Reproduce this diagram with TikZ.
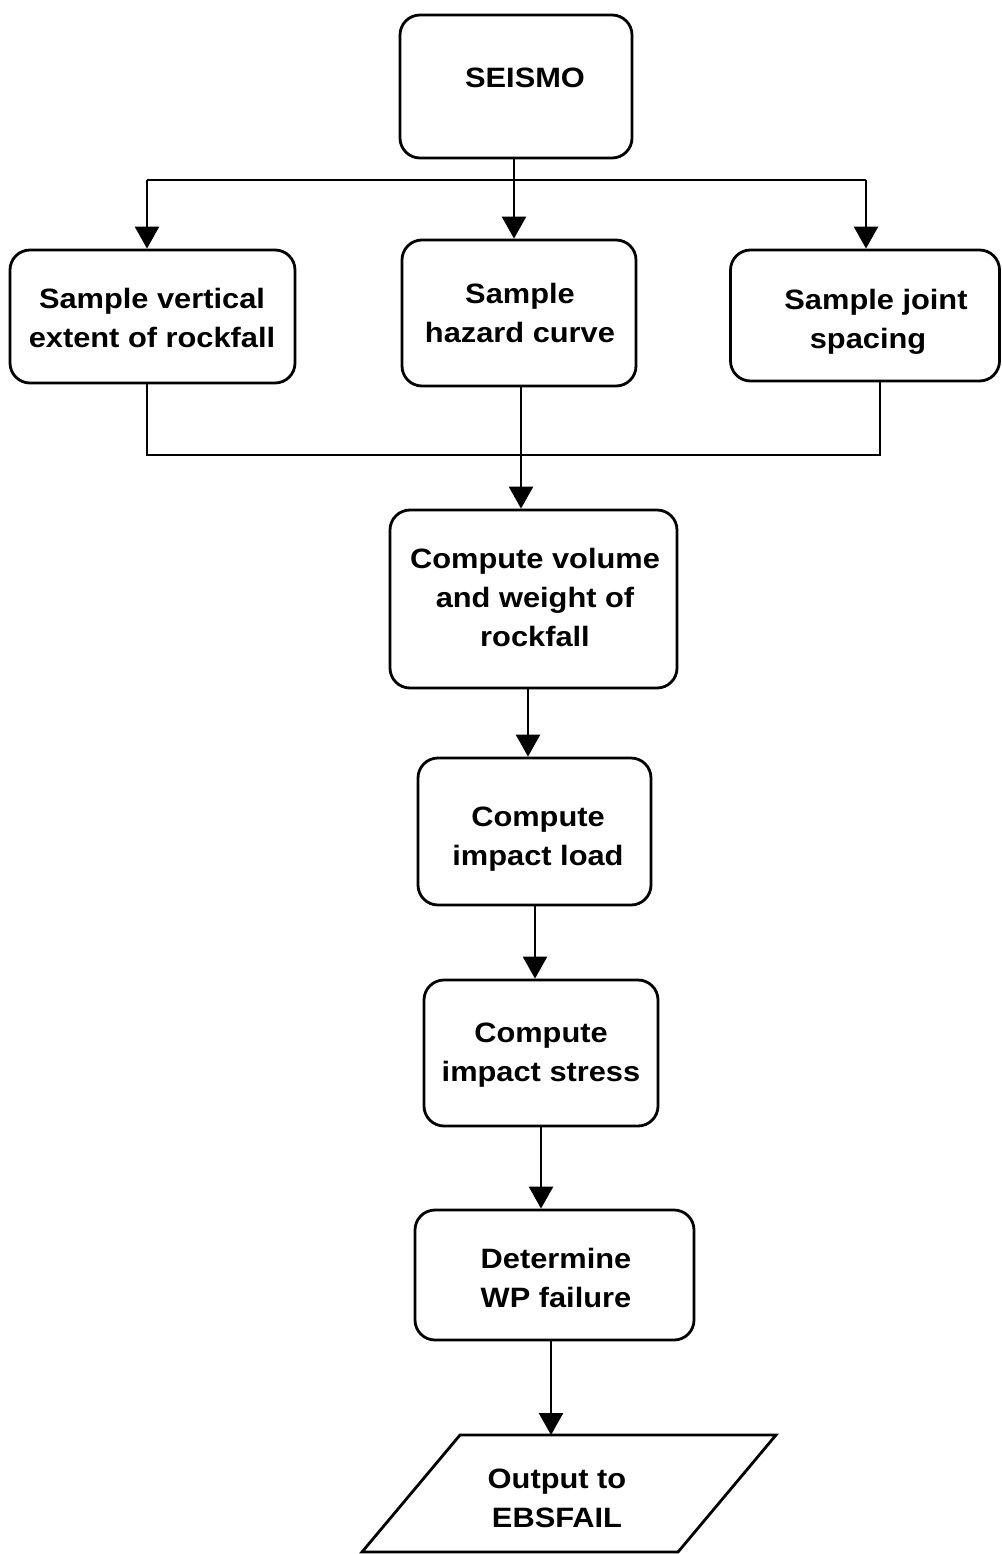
\documentclass[tikz,border=0pt]{standalone}
\usepackage{fontspec}
\setmainfont{Liberation Sans}[FakeStretch=1.1]
\usetikzlibrary{arrows.meta,shapes.geometric}
\begin{document}
\begin{tikzpicture}[x=1pt,y=-1pt,
  box/.style={draw,line width=2.8pt,rounded corners=20pt,inner sep=0pt},
  txt/.style={align=center,inner sep=0pt,font=\bfseries\fontsize{28}{39}\selectfont},
  conn/.style={line width=2.5pt},
  arr/.style={line width=2.5pt,-{Triangle[length=22pt,width=24pt]}}]
\useasboundingbox (0,0) rectangle (1001,1554);
\fill[white] (0,0) rectangle (1001,1554);
% boxes
\node[box,minimum width=232pt,minimum height=143pt] (seismo) at (516,86.5) {};
\node[txt] (seismo-t) at (525,78) {SEISMO};
\node[box,minimum width=285pt,minimum height=133pt] (s1) at (152.5,316.5) {};
\node[txt] (s1-t) at (152,318) {Sample vertical\\extent of rockfall};
\node[box,minimum width=234pt,minimum height=146pt] (s2) at (519,313) {};
\node[txt] (s2-t) at (520,313) {Sample\\hazard curve};
\node[box,minimum width=269pt,minimum height=131pt] (s3) at (865,315.5) {};
\node[txt] (s3-t) at (868,322) {\hspace*{16pt}Sample joint\\spacing};
\node[box,minimum width=287pt,minimum height=178pt] (vol) at (533.5,599) {};
\node[txt] (vol-t) at (535,597) {Compute volume\\and weight of\\rockfall};
\node[box,minimum width=233pt,minimum height=147pt] (load) at (534.5,831.5) {};
\node[txt] (load-t) at (538,839) {Compute\\impact load};
\node[box,minimum width=234pt,minimum height=146pt] (stress) at (541,1053) {};
\node[txt] (stress-t) at (541,1055) {Compute\\impact stress};
\node[box,minimum width=279pt,minimum height=130pt] (wp) at (554.5,1275) {};
\node[txt] (wp-t) at (556,1278) {Determine\\WP failure};
% parallelogram output
\coordinate (ptl) at (460,1435);
\coordinate (ptr) at (776,1435);
\coordinate (pbr) at (678,1552);
\coordinate (pbl) at (362,1552);
\draw[line width=2.8pt,line join=miter] (ptl) -- (ptr) -- (pbr) -- (pbl) -- cycle;
\node[txt] (out) at (557,1498) {Output to\\EBSFAIL};
\coordinate (outtop) at (551,1435);
% connectors from SEISMO
\coordinate (j0) at (514,180);
\coordinate (jl) at (147,180);
\coordinate (jr) at (866,180);
\draw[conn] (seismo.south -| j0) -- (j0);
\draw[conn] (jl) -- (jr);
\draw[arr] (jl) -- (jl |- s1.north);
\draw[arr] (j0) -- (j0 |- s2.north);
\draw[arr] (jr) -- (jr |- s3.north);
% merge
\coordinate (ml) at (147,455);
\coordinate (mr) at (880,455);
\draw[conn] (ml |- s1.south) -- (ml) -- (mr) -- (mr |- s3.south);
\draw[arr] (s2.south -| 521,0) -- (vol.north -| 521,0);
% chain
\draw[arr] (vol.south -| 528,0) -- (load.north -| 528,0);
\draw[arr] (load.south -| 535,0) -- (stress.north -| 535,0);
\draw[arr] (stress.south -| 541,0) -- (wp.north -| 541,0);
\draw[arr] (wp.south -| 551,0) -- (outtop);
\end{tikzpicture}
\end{document}
